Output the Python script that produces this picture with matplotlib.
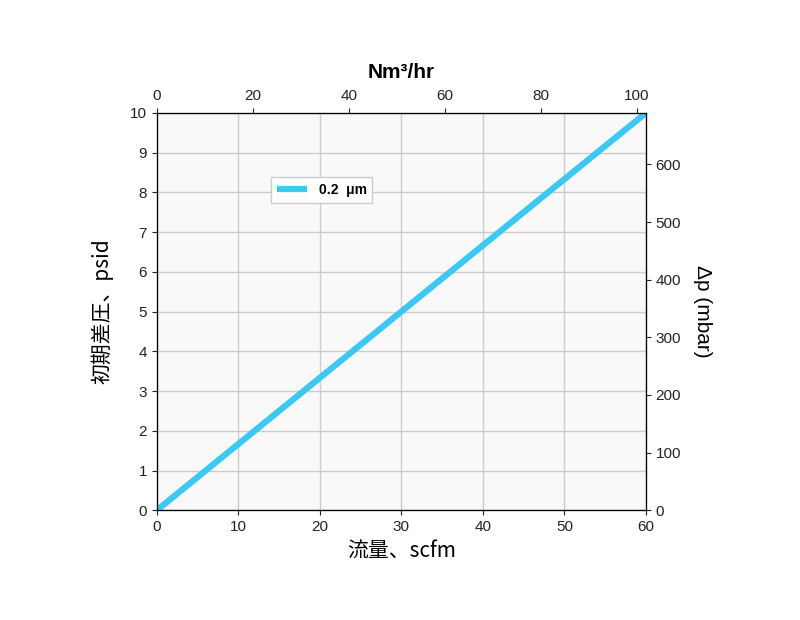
import matplotlib
matplotlib.use("Agg")
import matplotlib.pyplot as plt

plt.rcParams['font.family'] = ['Liberation Sans', 'Noto Sans CJK JP', 'DejaVu Sans']

flow_scfm = [0, 60]
dp_psid = [0, 10]
series_label = "0.2  μm"

cjk = ['Noto Sans CJK JP', 'DejaVu Sans']

fig = plt.figure(figsize=(8, 6.2), dpi=100)
ax = fig.add_axes([0.196, 0.177, 0.6115, 0.641])
ax.set_facecolor('#f9f9f9')
ax.plot(flow_scfm, dp_psid, color='#3cc8f2', lw=4.5, label=series_label, solid_capstyle='butt')
ax.set_xlim(0, 60)
ax.set_ylim(0, 10)
ax.set_xticks(range(0, 61, 10))
ax.set_yticks(range(0, 11))
ax.grid(True, color='#cccccc', lw=1)
ax.tick_params(labelsize=11, colors='#222222')
for s in ax.spines.values():
    s.set_color('#333333')
ax.set_xlabel("流量、scfm", fontsize=15, labelpad=4, family=cjk)
ax.set_ylabel("初期差圧、psid", fontsize=15, labelpad=12, family=cjk)

ax2 = ax.twiny()
ax2.set_xlim(0, 60 * 1.6990)
ax2.set_xticks(range(0, 101, 20))
ax2.tick_params(labelsize=11, colors='#222222')
ax2.set_xlabel("Nm³/hr", fontsize=15, fontweight='bold', labelpad=8)

ax3 = ax.twinx()
ax3.set_ylim(0, 10 * 68.948)
ax3.set_yticks(range(0, 601, 100))
ax3.tick_params(labelsize=11, colors='#222222')
ax3.set_ylabel("Δp (mbar)", fontsize=15, rotation=270, labelpad=22)

leg = ax.legend(loc='upper left', bbox_to_anchor=(0.22, 0.855),
                fancybox=False, framealpha=1, edgecolor='#cccccc', handlelength=2.2,
                prop={'weight': 'bold', 'size': 10, 'family': 'Liberation Sans'})
fig.savefig('out.png', dpi=100)
